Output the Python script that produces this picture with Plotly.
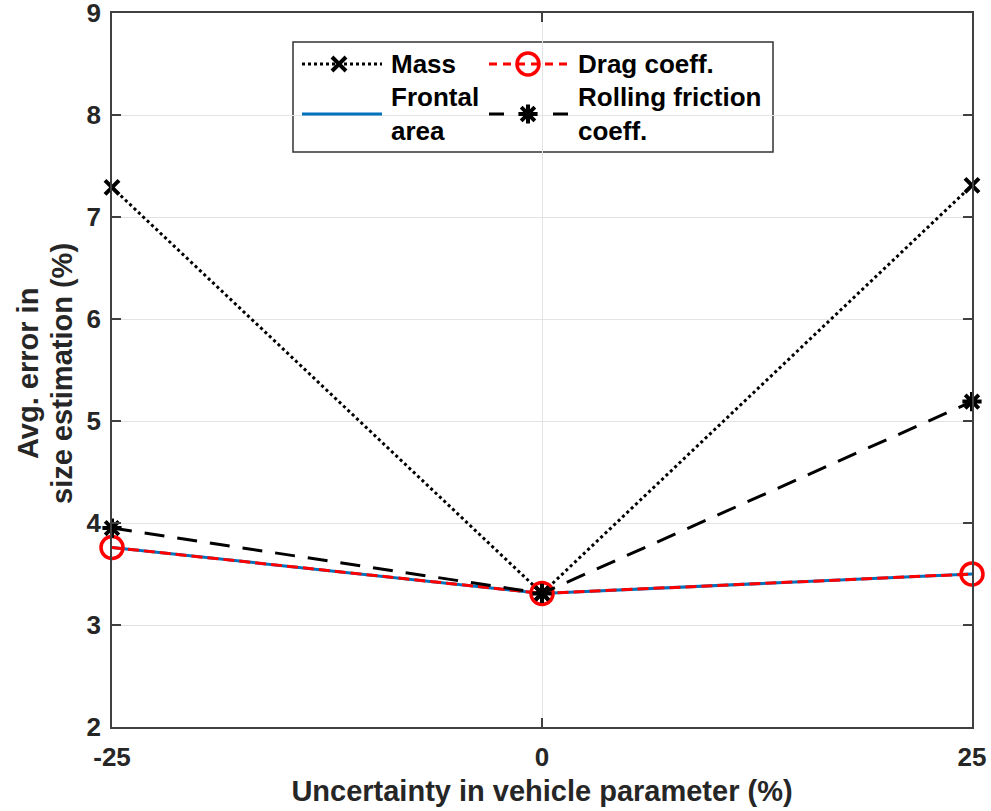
import plotly.graph_objects as go

# Uncertainty levels applied to each vehicle parameter (%)
uncertainty = [-25, 0, 25]

# Average error in size estimation (%) for each perturbed parameter
mass_err = [7.29, 3.31, 7.31]
drag_err = [3.76, 3.31, 3.50]
frontal_err = [3.76, 3.31, 3.50]
rolling_err = [3.95, 3.31, 5.19]

x_ticks = [-25, 0, 25]
y_ticks = [2, 3, 4, 5, 6, 7, 8, 9]

FONT = "Liberation Sans, Arial, sans-serif"
BLUE = "#0072BD"
RED = "#FF0000"
BLACK = "#000000"
TXT = "#262626"

W, H = 991, 811
L, R, T, B = 112, 19, 13, 84
PW, PH = W - L - R, H - T - B

mass_line = dict(color=BLACK, width=3, dash="dot")
mass_marker = dict(symbol="x-thin-open", size=14, color=BLACK, line=dict(color=BLACK, width=4))
frontal_line = dict(color=BLUE, width=3)
drag_line = dict(color=RED, width=3, dash="11px,5px")
drag_marker = dict(symbol="circle-open", size=22, color=RED, line=dict(color=RED, width=3.5))
rolling_line = dict(color=BLACK, width=3, dash="20px,13px")
rolling_marker = dict(symbol="asterisk-open", size=16, color=BLACK, line=dict(color=BLACK, width=4))

fig = go.Figure()

fig.add_trace(go.Scatter(x=uncertainty, y=mass_err, mode="lines+markers", name="Mass",
                         line=mass_line, marker=mass_marker, cliponaxis=False, showlegend=False))
fig.add_trace(go.Scatter(x=uncertainty, y=frontal_err, mode="lines", name="Frontal area",
                         line=frontal_line, cliponaxis=False, showlegend=False))
fig.add_trace(go.Scatter(x=uncertainty, y=drag_err, mode="lines+markers", name="Drag coeff.",
                         line=drag_line, marker=drag_marker, cliponaxis=False, showlegend=False))
fig.add_trace(go.Scatter(x=uncertainty, y=rolling_err, mode="lines+markers",
                         name="Rolling friction coeff.", line=rolling_line,
                         marker=rolling_marker, cliponaxis=False, showlegend=False))


# Legend drawn on a pixel-scaled overlay axis pair
def lx(px):
    return px - L


def ly(py):
    return (T + PH) - py


legend_rows = [
    dict(x0=302, x1=382, xm=339, y=64, line=mass_line, marker=mass_marker,
         text="Mass", tx=389),
    dict(x0=489, x1=569, xm=528, y=64, line=dict(drag_line, dash="8px,6px"),
         marker=drag_marker, text="Drag coeff.", tx=576),
    dict(x0=302, x1=382, xm=None, y=114, line=frontal_line, marker=None,
         text="Frontal<br>area", tx=389),
    dict(x0=489, x1=569, xm=528, y=114, line=dict(rolling_line, dash="15px,49px"),
         marker=rolling_marker, text="Rolling friction<br>coeff.", tx=576),
]
for row in legend_rows:
    fig.add_trace(go.Scatter(
        x=[lx(row["x0"]), lx(row["x1"])], y=[ly(row["y"])] * 2, mode="lines",
        line=row["line"], xaxis="x2", yaxis="y2", showlegend=False, hoverinfo="skip"))
    if row["marker"] is not None:
        fig.add_trace(go.Scatter(
            x=[lx(row["xm"])], y=[ly(row["y"])], mode="markers", marker=row["marker"],
            xaxis="x2", yaxis="y2", showlegend=False, hoverinfo="skip"))
    fig.add_annotation(
        x=lx(row["tx"]), y=ly(row["y"]), xref="x2", yref="y2", text=row["text"],
        showarrow=False, xanchor="left", yanchor="middle", align="left",
        font=dict(family=FONT, size=26, color=BLACK, weight="bold"))

fig.add_shape(type="rect", xref="x2", yref="y2",
              x0=lx(293), x1=lx(773), y0=ly(152), y1=ly(42),
              line=dict(color="#333333", width=1.5), fillcolor="rgba(0,0,0,0)", layer="below")

# Y-axis title as two stacked lines
for txt, xpos in [("Avg. error in", 28), ("size estimation (%)", 62)]:
    fig.add_annotation(
        x=0, xref="paper", xshift=xpos - L, y=0.5, yref="paper", yshift=-4,
        text=txt, textangle=-90, showarrow=False, xanchor="center", yanchor="middle",
        font=dict(family=FONT, size=29, color=TXT, weight="bold"))

axis_common = dict(
    showline=True, linecolor="#404040", linewidth=1.5, mirror="ticks",
    ticks="inside", ticklen=9, tickwidth=1.5, tickcolor="#404040",
    showgrid=True, gridcolor="#E3E3E3", gridwidth=1, zeroline=False,
    tickfont=dict(family=FONT, size=26, color=TXT, weight="bold"),
    automargin=False, ticklabeloverflow="allow",
)

fig.update_layout(
    width=W, height=H,
    margin=dict(l=L, r=R, t=T, b=B, autoexpand=False),
    paper_bgcolor="white", plot_bgcolor="white",
    font=dict(family=FONT, color=TXT),
    xaxis=dict(range=[-25, 25], tickvals=x_ticks, ticktext=[str(v) for v in x_ticks],
               title=dict(text="Uncertainty in vehicle parameter (%)",
                          font=dict(family=FONT, size=29, color=TXT, weight="bold"), standoff=10),
               ticklabelstandoff=6, **axis_common),
    yaxis=dict(range=[2, 9], tickvals=y_ticks, ticktext=[str(v) for v in y_ticks],
               ticklabelstandoff=4, **axis_common),
    xaxis2=dict(range=[0, PW], overlaying="x", visible=False, fixedrange=True),
    yaxis2=dict(range=[0, PH], overlaying="y", visible=False, fixedrange=True),
)

fig.write_html("out.html")
